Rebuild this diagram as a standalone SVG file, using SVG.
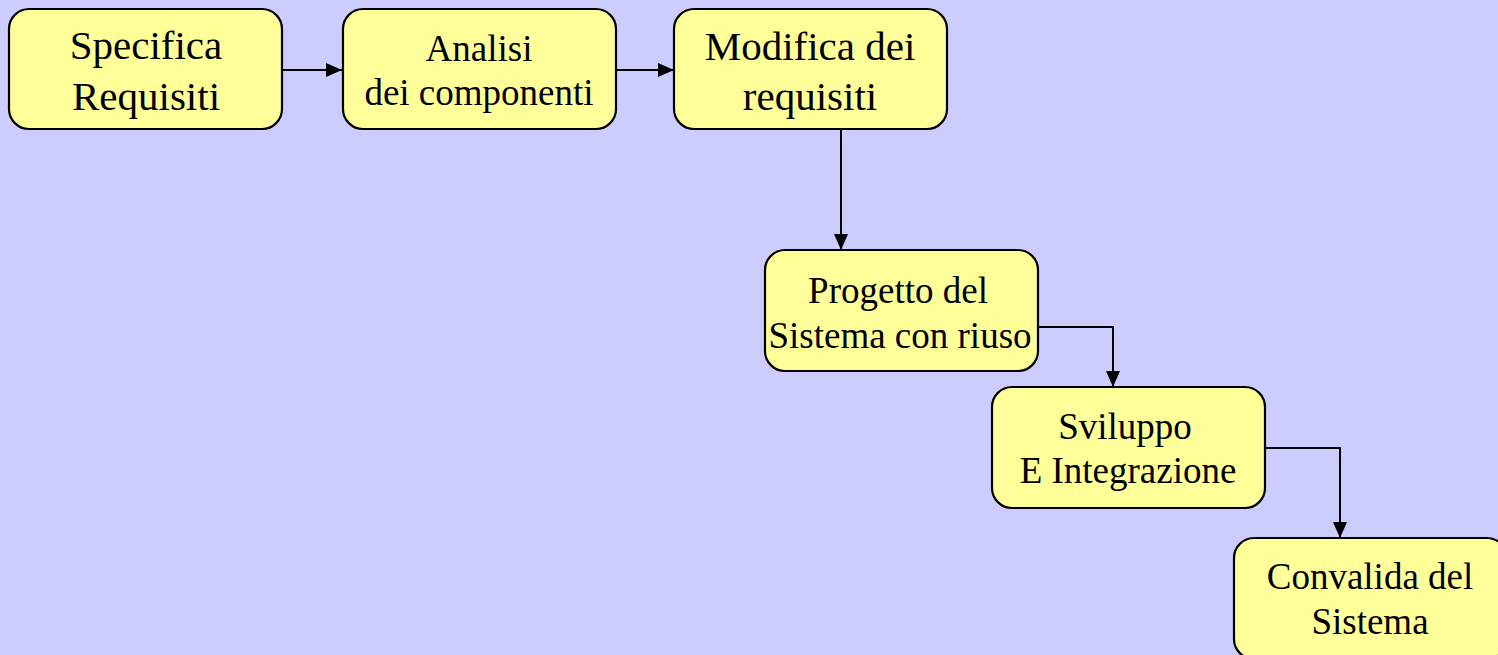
<svg xmlns="http://www.w3.org/2000/svg" width="1498" height="655" viewBox="0 0 1498 655">
<style>
.box{fill:#FFFF99;stroke:#000;stroke-width:2.2}
.t{font-family:"Liberation Serif","Times New Roman",serif;fill:#000;text-anchor:middle}
.big{font-size:41px}
.med{font-size:37px}
.conn{fill:none;stroke:#000;stroke-width:2}
</style>
<defs>
<marker id="ah" viewBox="0 0 16 14" refX="16" refY="7" markerWidth="16" markerHeight="14" markerUnits="userSpaceOnUse" orient="auto">
<path d="M0,0 L16,7 L0,14 Z" fill="#000"/>
</marker>
</defs>
<rect width="1498" height="655" fill="#CCCCFF"/>
<g id="connectors">
<path class="conn" d="M282,70 H342" marker-end="url(#ah)"/>
<path class="conn" d="M616,70 H674" marker-end="url(#ah)"/>
<path class="conn" d="M841,129 V250" marker-end="url(#ah)"/>
<path class="conn" d="M1038,327 H1113 V387" marker-end="url(#ah)"/>
<path class="conn" d="M1265,448 H1340 V538" marker-end="url(#ah)"/>
</g>
<g id="n1">
<rect class="box" x="9" y="9" width="273" height="120" rx="20"/>
<text class="t big" x="146" y="59">Specifica</text>
<text class="t big" x="146" y="110">Requisiti</text>
</g>
<g id="n2">
<rect class="box" x="343" y="9" width="273" height="120" rx="20"/>
<text class="t med" x="479" y="61">Analisi</text>
<text class="t med" x="479" y="105">dei componenti</text>
</g>
<g id="n3">
<rect class="box" x="674" y="9" width="273" height="120" rx="20"/>
<text class="t big" x="810" y="60">Modifica dei</text>
<text class="t big" x="810" y="110">requisiti</text>
</g>
<g id="n4">
<rect class="box" x="765" y="250" width="273" height="121" rx="20"/>
<text class="t med" x="898" y="303">Progetto del</text>
<text class="t med" x="900" y="348">Sistema con riuso</text>
</g>
<g id="n5">
<rect class="box" x="992" y="387" width="273" height="121" rx="20"/>
<text class="t med" x="1125" y="439">Sviluppo</text>
<text class="t med" x="1128" y="483">E Integrazione</text>
</g>
<g id="n6">
<rect class="box" x="1234" y="538" width="273" height="121" rx="20"/>
<text class="t med" x="1370" y="589">Convalida del</text>
<text class="t med" x="1370" y="634">Sistema</text>
</g>
</svg>
